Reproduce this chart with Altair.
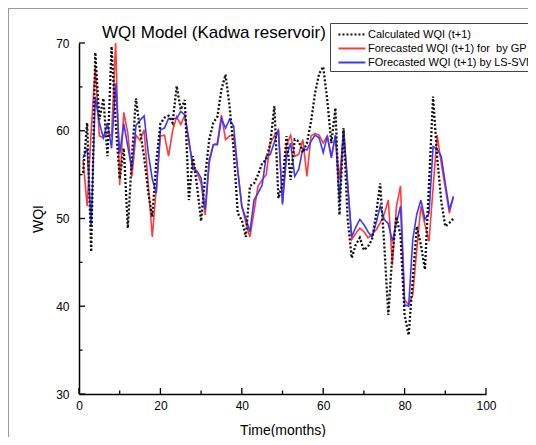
import altair as alt
import pandas as pd

FONT = "Liberation Sans"

months = list(range(1, 93))

calculated = [
    55.2, 60.9, 46.2, 68.9, 61.3, 63.7, 57.1, 69.6, 61.0, 54.5,
    58.0, 48.9, 57.0, 63.7, 60.0, 57.0, 53.0, 50.2, 56.5, 60.8,
    61.5, 61.7, 60.9, 65.1, 62.4, 63.5, 52.1, 57.1, 53.7, 49.7,
    54.8, 59.0, 60.9, 61.6, 64.7, 66.4, 62.8, 57.8, 50.6, 49.8,
    47.9, 53.7, 54.0, 55.0, 56.3, 56.7, 58.6, 62.8, 52.3, 54.0,
    59.4, 54.4, 59.0, 58.8, 57.5, 58.6, 61.0, 64.3, 66.5, 67.3,
    63.5, 58.6, 62.6, 50.4, 60.3, 50.0, 45.5, 47.0, 47.8, 46.4,
    46.8, 47.6, 50.5, 54.0, 47.0, 39.0, 46.0, 50.2, 48.0, 39.0,
    36.7, 43.0, 49.1, 47.0, 44.2, 54.0, 63.9, 57.0, 52.0, 49.1,
    49.5, 50.0,
]

gp = [
    56.7, 51.4, 60.0, 67.3, 59.4, 59.2, 59.8, 59.4, 70.0, 53.8,
    62.1, 59.7, 54.8, 59.5, 58.9, 60.1, 54.0, 47.9, 53.5, 59.4,
    59.5, 57.1, 60.0, 61.6, 60.7, 61.8, 58.6, 56.3, 55.2, 54.0,
    50.4, 56.3, 58.4, 58.6, 61.8, 59.0, 59.4, 59.5, 55.5, 51.4,
    49.5, 47.9, 50.8, 53.7, 54.4, 55.0, 58.6, 59.4, 60.1, 51.8,
    58.4, 59.5, 57.1, 57.3, 59.0, 54.8, 59.4, 59.7, 59.5, 58.6,
    59.4, 57.1, 59.4, 54.4, 60.1, 54.0, 47.6, 48.3, 48.9, 48.5,
    47.8, 48.2, 48.7, 49.5, 50.5, 52.1, 44.7, 51.4, 53.7, 40.7,
    40.2, 41.3, 46.5, 51.4, 49.3, 47.4, 53.5, 59.5, 56.3, 53.5,
    50.6, 52.5,
]

lssvm = [
    56.9, 58.0, 49.1, 63.9, 60.9, 59.2, 60.9, 58.0, 65.4, 57.4,
    60.8, 58.2, 55.6, 60.6, 61.2, 61.7, 57.5, 54.5, 52.9, 60.1,
    60.3, 61.4, 61.4, 61.4, 62.2, 61.8, 59.0, 55.6, 55.4, 54.6,
    51.0, 56.7, 58.4, 58.4, 61.4, 60.3, 61.3, 60.5, 55.5, 51.4,
    50.0, 48.5, 52.1, 52.9, 53.8, 57.1, 57.3, 58.7, 60.1, 51.6,
    57.1, 58.6, 54.8, 55.6, 58.0, 57.8, 58.8, 59.5, 59.2, 57.5,
    59.4, 56.9, 59.5, 51.9, 60.1, 54.0, 47.9, 49.0, 49.9, 49.3,
    48.5, 47.9, 49.5, 51.4, 49.9, 49.4, 47.4, 49.5, 51.4, 40.2,
    40.0, 47.6, 50.5, 52.1, 49.9, 50.6, 58.2, 57.9, 57.1, 54.0,
    51.0, 52.5,
]

names = [
    "Calculated WQI (t+1)",
    "Forecasted WQI (t+1) for\u00a0 by GP",
    "FOrecasted WQI (t+1) by LS-SVM",
]
colors = ["#111111", "#ff3a3a", "#3a3aff"]
dashes = [[2, 2], [1, 0], [1, 0]]

x_major = [0, 20, 40, 60, 80, 100]
x_minor = [10, 30, 50, 70, 90]
y_major = [30, 40, 50, 60, 70]
y_minor = [35, 45, 55, 65]

chart_title = "WQI Model (Kadwa reservoir)"

W, H = 407, 351

rows = []
for name, vals in zip(names, [calculated, gp, lssvm]):
    for m, v in zip(months, vals):
        rows.append({"month": m, "wqi": v, "series": name})
df = pd.DataFrame(rows)

xs = alt.Scale(domain=[0, 100], nice=False, zero=False)
ys = alt.Scale(domain=[30, 70], nice=False, zero=False)

x_axis = alt.Axis(title="Time(months)", values=x_major, ticks=False, grid=False,
                  domainColor="#000", domainWidth=1.5, labelFontSize=12,
                  labelPadding=6, labelFont=FONT, labelColor="#000",
                  titleFont=FONT, titleFontSize=14, titleFontWeight="normal",
                  titleColor="#000", titlePadding=12, labelFlush=False)
y_axis = alt.Axis(title="WQI", values=y_major, ticks=False, grid=False,
                  domainColor="#000", domainWidth=1.5, labelFontSize=12,
                  labelPadding=10, labelFont=FONT, labelColor="#000",
                  titleFont=FONT, titleFontSize=14, titleFontWeight="normal",
                  titleColor="#000", titlePadding=10, labelFlush=False)

legend = alt.Legend(title=None)
x_enc = alt.X("month:Q", scale=xs, axis=x_axis)
y_enc = alt.Y("wqi:Q", scale=ys, axis=y_axis)
color_enc = alt.Color("series:N", scale=alt.Scale(domain=names, range=colors), legend=legend)
dash_enc = alt.StrokeDash("series:N", scale=alt.Scale(domain=names, range=dashes), legend=legend)


def series_layer(name, width):
    return (
        alt.Chart(df)
        .transform_filter(alt.datum.series == name)
        .mark_line(strokeWidth=width, clip=True, strokeCap="butt")
        .encode(x=x_enc, y=y_enc, color=color_enc, strokeDash=dash_enc)
    )


red = series_layer(names[1], 1.6)
blue = series_layer(names[2], 1.6)
black = series_layer(names[0], 2.3)


def tick_layer(values, channel, length):
    d = pd.DataFrame({"v": values})
    base = alt.Chart(d).mark_rule(color="#000", strokeWidth=1.3)
    if channel == "x":
        return base.encode(x=alt.X("v:Q", scale=xs, axis=x_axis),
                           y=alt.value(H), y2=alt.value(H - length))
    return base.encode(y=alt.Y("v:Q", scale=ys, axis=y_axis),
                       x=alt.value(0), x2=alt.value(length))


ticks = [
    tick_layer(x_major, "x", 6), tick_layer(x_minor, "x", 3.5),
    tick_layer(y_major, "y", 6), tick_layer(y_minor, "y", 3.5),
]

one = pd.DataFrame({"t": [chart_title]})
title = alt.Chart(one).mark_text(
    align="left", baseline="alphabetic", fontSize=17, font=FONT, color="#000"
).encode(x=alt.value(23), y=alt.value(-5), text="t:N")

frame_left = alt.Chart(one).mark_rule(color="#9a9a9a", strokeWidth=1).encode(
    x=alt.value(-70.5), y=alt.value(-34.5), y2=alt.value(H + 60))
frame_top = alt.Chart(one).mark_rule(color="#9a9a9a", strokeWidth=1).encode(
    x=alt.value(-71), x2=alt.value(W + 60), y=alt.value(-34.5))

chart = (
    alt.layer(frame_left, frame_top, red, blue, black, *ticks, title)
    .properties(
        width=W, height=H, autosize="none",
        padding={"left": 71, "top": 35, "right": 42, "bottom": 43},
    )
    .configure_view(stroke=None)
    .configure_legend(
        orient="none", legendX=251, legendY=-20,
        symbolType="M-0.43,0H3.38", symbolSize=200, symbolStrokeWidth=2,
        labelOffset=18,
        labelFont=FONT, labelFontSize=11, labelColor="#000", labelLimit=400,
        strokeColor="#444", fillColor="#fff", padding=3, rowPadding=0,
    )
)

chart.save("out.html", embed_options={"renderer": "svg", "actions": False})
